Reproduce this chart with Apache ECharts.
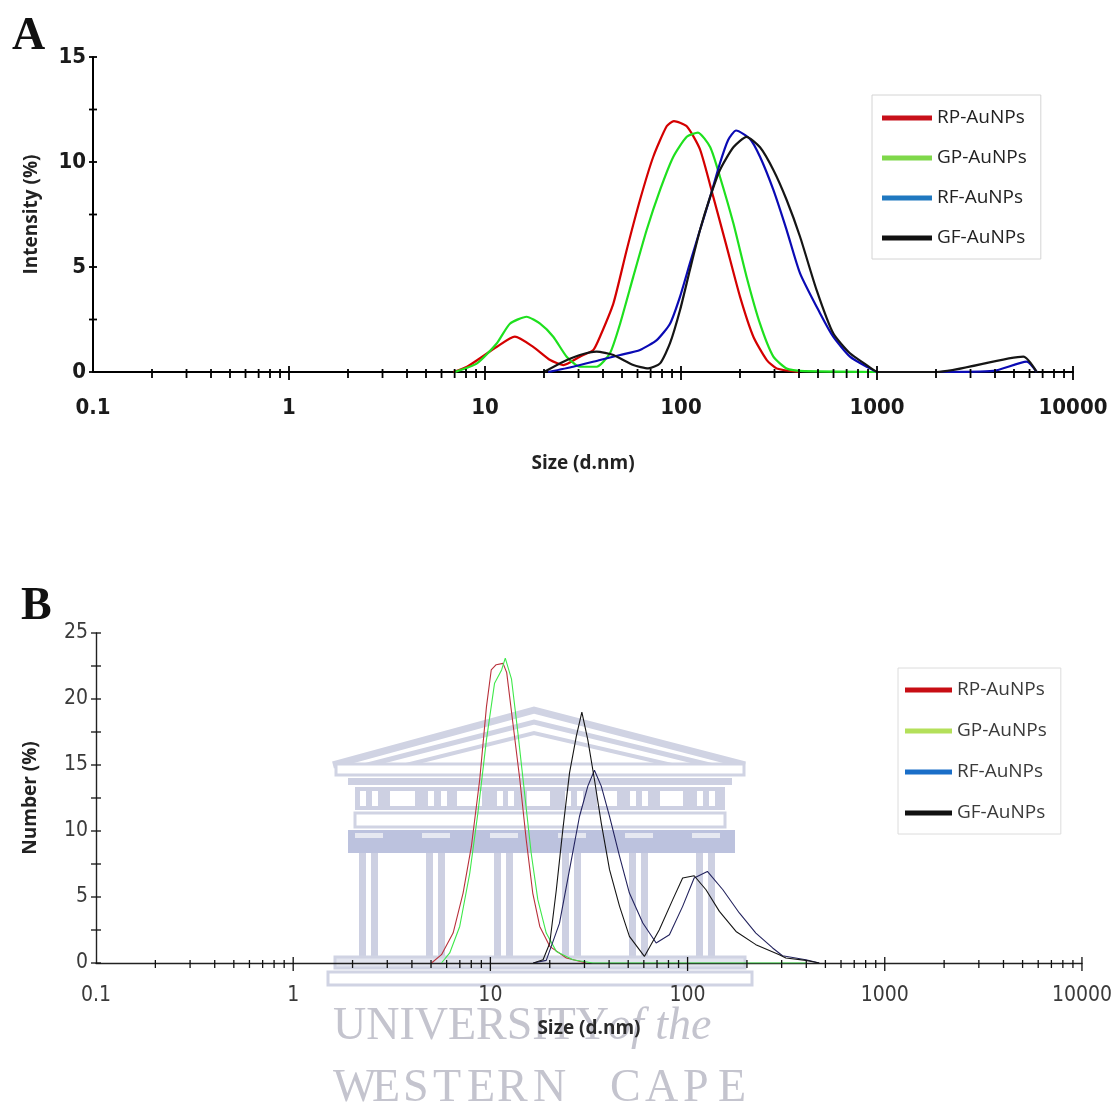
<!DOCTYPE html>
<html><head><meta charset="utf-8">
<script src="https://cdn.jsdelivr.net/npm/echarts@6/dist/echarts.min.js"></script>
<style>html,body{margin:0;padding:0;background:#fff}#c{width:1115px;height:1118px}</style>
</head><body><div id="c"></div>
<script>
// ---------------- DATA ----------------
const seriesNames = ['RP-AuNPs', 'GP-AuNPs', 'RF-AuNPs', 'GF-AuNPs'];
const xTickLabels = ['0.1', '1', '10', '100', '1000', '10000'];

// Panel A: Intensity (%) vs size (d.nm)
const rpSizeA = [6.9, 8.1, 11.5, 14.2, 17.6, 21.5, 25.1, 30.5, 35.7, 38.6, 45.2, 52.8, 61.8, 72.2, 84.5, 92, 107, 125, 146, 171, 200, 234, 274, 308, 405];
const rpIntA  = [0, 0.25, 1.2, 1.68, 1.2, 0.57, 0.33, 0.73, 1.05, 1.68, 3.27, 5.8, 8.2, 10.25, 11.7, 11.95, 11.7, 10.6, 8.35, 5.97, 3.59, 1.68, 0.57, 0.17, 0];
const gpSizeA = [7.0, 9.1, 11.5, 13.4, 16.3, 19.1, 22.3, 26.1, 30.5, 37.1, 43.4, 48.9, 57.1, 66.8, 78.2, 91.4, 107, 122, 141, 158, 185, 216, 253, 296, 346, 405, 1000];
const gpIntA  = [0, 0.41, 1.37, 2.3, 2.63, 2.3, 1.68, 0.73, 0.25, 0.25, 0.89, 2.3, 4.54, 6.76, 8.67, 10.25, 11.2, 11.4, 10.7, 9.3, 7.08, 4.54, 2.3, 0.73, 0.17, 0.05, 0];
const rfSizeA = [21.0, 28.2, 38.6, 48.9, 61.8, 75.2, 87.9, 98.9, 111, 125, 141, 158, 174, 191, 225, 253, 296, 346, 405, 512, 598, 728, 886, 1016, 2018, 3920, 5800, 6530];
const rfIntA  = [0, 0.25, 0.57, 0.81, 1.05, 1.52, 2.3, 3.59, 5.17, 6.76, 8.35, 9.94, 11.05, 11.5, 11.1, 10.25, 8.67, 6.76, 4.7, 2.8, 1.68, 0.73, 0.25, 0, 0, 0.05, 0.49, 0];
const gfSizeA = [20, 25.1, 30.5, 37.1, 45.2, 57.1, 68.1, 78.2, 87.9, 98.9, 111, 125, 141, 158, 185, 216, 253, 296, 346, 405, 492, 598, 728, 886, 1016, 2018, 5580, 6530];
const gfIntA  = [0, 0.49, 0.81, 0.97, 0.81, 0.33, 0.17, 0.41, 1.37, 2.95, 4.86, 6.76, 8.35, 9.62, 10.7, 11.2, 10.7, 9.62, 8.19, 6.44, 3.9, 1.84, 0.89, 0.33, 0, 0, 0.73, 0];

// Panel B: Number (%) vs size (d.nm)
const rpSizeB = [5.03, 5.65, 6.47, 7.27, 8.01, 8.83, 9.55, 10.1, 10.7, 11.6, 12.1, 13.0, 14.1, 15.2, 16.4, 17.8, 20.0, 24.3, 30.6];
const rpNumB  = [0, 0.63, 2.27, 5.3, 8.83, 13.9, 19.4, 22.2, 22.6, 22.7, 22.0, 18.2, 13.9, 9.34, 5.3, 2.77, 1.26, 0.38, 0];
const gpSizeB = [5.65, 6.22, 6.99, 7.86, 8.65, 9.55, 10.5, 11.4, 11.9, 12.8, 13.8, 14.9, 16.1, 17.4, 19.2, 21.6, 26.2, 33.1, 400];
const gpNumB  = [0, 0.76, 2.77, 6.8, 11.4, 16.9, 21.2, 22.2, 23.1, 21.5, 17.4, 12.9, 8.33, 4.8, 2.27, 0.88, 0.25, 0, 0];
const rfSizeB = [16.5, 19.2, 22.4, 25.2, 28.3, 31.2, 33.7, 36.5, 40.2, 45.2, 50.7, 59.3, 69.3, 80.9, 94.4, 108, 126, 151, 183, 222, 270, 303, 398, 465];
const rfNumB  = [0, 0.2, 3.0, 7.07, 11.1, 13.4, 14.6, 13.4, 11.1, 8.08, 5.3, 3.03, 1.52, 2.14, 4.29, 6.44, 6.94, 5.55, 3.79, 2.27, 1.14, 0.55, 0.25, 0];
const gfSizeB = [16.5, 18.5, 20.0, 21.6, 23.3, 25.2, 27.3, 29.1, 31.2, 33.7, 36.5, 40.2, 45.2, 50.7, 60.4, 71.9, 84.1, 94.4, 108, 124, 145, 176, 222, 292, 315, 398, 465];
const gfNumB  = [0, 0.25, 1.5, 5.55, 10.1, 14.4, 17.2, 19.0, 16.9, 13.9, 10.6, 7.07, 4.29, 2.02, 0.5, 2.52, 4.8, 6.44, 6.61, 5.55, 3.91, 2.39, 1.39, 0.63, 0.38, 0.2, 0];

// Axis tick positions
const majorTicks = [1, 10, 100, 1000, 10000];
const minorMultipliers = [2, 3, 4, 5, 6, 7, 8, 9];
const decadeStarts = [0.1, 1, 10, 100, 1000];
const yTicksA = [0, 2.5, 5, 7.5, 10, 12.5, 15];
const yTicksB = [0, 2.5, 5, 7.5, 10, 12.5, 15, 17.5, 20, 22.5, 25];

// ---------------- BUILD ----------------
const zip = (xs, ys) => xs.map((x, i) => [x, ys[i]]);
const colorsA = ['#d40000', '#1ee01e', '#0a0ab4', '#151515'];
const colorsB = ['#b8303a', '#3ee84a', '#23235e', '#151515'];
const legendColorsA = ['#c8101a', '#7fd84a', '#1f78c0', '#111111'];
const legendColorsB = ['#c80e14', '#b4e05a', '#1a6ec8', '#111111'];

const dataA = [zip(rpSizeA, rpIntA), zip(gpSizeA, gpIntA), zip(rfSizeA, rfIntA), zip(gfSizeA, gfIntA)];
const dataB = [zip(rpSizeB, rpNumB), zip(gpSizeB, gpNumB), zip(rfSizeB, rfNumB), zip(gfSizeB, gfNumB)];

function tickData(yTicks) {
  const d = [];
  decadeStarts.forEach(s => minorMultipliers.forEach(m => d.push([Number((s * m).toPrecision(4)), 0, 0])));
  majorTicks.forEach(v => d.push([v, 0, 1]));
  yTicks.forEach(v => d.push([0.1, v, 2]));
  return d;
}
function tickRender(cfg) {
  return function (params, api) {
    const k = api.value(2);
    const p = api.coord([api.value(0), api.value(1)]);
    let shape;
    if (k === 0) shape = { x1: p[0], y1: p[1] - cfg.minUp, x2: p[0], y2: p[1] + cfg.minDn };
    else if (k === 1) shape = { x1: p[0], y1: p[1] - cfg.majUp, x2: p[0], y2: p[1] + cfg.majDn };
    else shape = { x1: p[0] - cfg.yL, y1: p[1], x2: p[0] + cfg.yR, y2: p[1] };
    return { type: 'line', shape: shape, style: { stroke: cfg.color, lineWidth: cfg.width } };
  };
}

const narrow = "'Liberation Sans Narrow', 'Arial Narrow', 'DejaVu Sans Condensed', sans-serif";
const logFmt = v => String(Number(Number(v).toPrecision(6)));
const yFmt = v => (Math.abs(v % 5) < 1e-9 ? String(v) : '');

const series = [];
seriesNames.forEach((n, i) => {
  series.push({ name: n, type: 'line', xAxisIndex: 0, yAxisIndex: 0, data: dataA[i], showSymbol: false, symbol: 'none',
    smooth: 0.2, lineStyle: { color: colorsA[i], width: 2.2 }, itemStyle: { color: colorsA[i] }, z: 3 });
});
seriesNames.forEach((n, i) => {
  series.push({ name: n, type: 'line', xAxisIndex: 1, yAxisIndex: 1, data: dataB[i], showSymbol: false, symbol: 'none',
    lineStyle: { color: colorsB[i], width: 1.1 }, itemStyle: { color: colorsB[i] }, z: 3 });
});
series.push({ type: 'custom', xAxisIndex: 0, yAxisIndex: 0, data: tickData(yTicksA), encode: { x: 0, y: 1 }, silent: true, z: 4,
  renderItem: tickRender({ minUp: 3, minDn: 6, majUp: 6, majDn: 8, yL: 4, yR: 4, color: '#000', width: 1.8 }) });
series.push({ type: 'custom', xAxisIndex: 1, yAxisIndex: 1, data: tickData(yTicksB), encode: { x: 0, y: 1 }, silent: true, z: 4,
  renderItem: tickRender({ minUp: 3, minDn: 5, majUp: 6, majDn: 8, yL: 5, yR: 5, color: '#111', width: 1.3 }) });

// ---- watermark (decorative) ----
const wmLine = '#d0d3e3', wmFill = '#cdd0e2', wmDark = '#bcc2de';
const wm = [];
wm.push({ type: 'polyline', shape: { points: [[333, 765], [534, 710], [745, 765]] }, style: { stroke: wmLine, lineWidth: 7, fill: null } });
wm.push({ type: 'polyline', shape: { points: [[352, 769], [534, 722], [726, 769]] }, style: { stroke: wmLine, lineWidth: 5, fill: null } });
wm.push({ type: 'polyline', shape: { points: [[378, 772], [534, 733], [702, 772]] }, style: { stroke: wmLine, lineWidth: 4, fill: null } });
wm.push({ type: 'rect', shape: { x: 336, y: 764, width: 408, height: 11 }, style: { stroke: wmLine, lineWidth: 3, fill: '#fff' } });
wm.push({ type: 'rect', shape: { x: 348, y: 778, width: 384, height: 7 }, style: { fill: wmFill } });
wm.push({ type: 'rect', shape: { x: 355, y: 787, width: 370, height: 23 }, style: { fill: wmFill } });
[[360, 366], [372, 378], [428, 434], [441, 447], [497, 503], [508, 514], [565, 571], [577, 583], [630, 636], [642, 648], [697, 703], [709, 715]].forEach(b =>
  wm.push({ type: 'rect', shape: { x: b[0], y: 791, width: b[1] - b[0], height: 15 }, style: { fill: '#fff' } }));
[[390, 415], [457, 482], [527, 550], [597, 617], [660, 683]].forEach(b =>
  wm.push({ type: 'rect', shape: { x: b[0], y: 791, width: b[1] - b[0], height: 15 }, style: { fill: '#fff' } }));
wm.push({ type: 'rect', shape: { x: 355, y: 813, width: 370, height: 14 }, style: { stroke: wmLine, lineWidth: 3, fill: '#fff' } });
wm.push({ type: 'rect', shape: { x: 348, y: 830, width: 387, height: 23 }, style: { fill: wmDark } });
const colGroups = [369, 436, 504, 572, 639, 706];
colGroups.forEach(c => {
  wm.push({ type: 'rect', shape: { x: c - 14, y: 833, width: 28, height: 5 }, style: { fill: '#e6e8f1' } });
  wm.push({ type: 'rect', shape: { x: c - 10, y: 853, width: 7, height: 104 }, style: { fill: wmFill } });
  wm.push({ type: 'rect', shape: { x: c + 2, y: 853, width: 7, height: 104 }, style: { fill: wmFill } });
});
wm.push({ type: 'rect', shape: { x: 335, y: 957, width: 410, height: 11 }, style: { stroke: wmLine, lineWidth: 3, fill: '#e3e5ef' } });
wm.push({ type: 'rect', shape: { x: 328, y: 972, width: 424, height: 13 }, style: { stroke: wmLine, lineWidth: 3, fill: '#fff' } });
const wmText = '#c4c4ce';
wm.push({ type: 'text', style: { text: 'UNIVERSITY', x: 333, y: 1004, fill: wmText, font: '46px "Liberation Serif"', verticalAlign: 'top' } });
wm.push({ type: 'text', style: { text: 'of the', x: 608, y: 1004, fill: wmText, font: 'italic 46px "Liberation Serif"', verticalAlign: 'top' } });
const wcLetters = ['W', 'E', 'S', 'T', 'E', 'R', 'N', 'C', 'A', 'P', 'E'];
const wcX = [333, 372, 403, 433, 467, 497, 533, 610, 645, 683, 718];
wcLetters.forEach((l, i) => wm.push({ type: 'text', style: { text: l, x: wcX[i], y: 1066, fill: wmText, font: '46px "Liberation Serif"', verticalAlign: 'top' } }));
wm.forEach(e => { e.z = -5; e.silent = true; });

const option = {
  animation: false,
  backgroundColor: '#fff',
  grid: [
    { left: 93, top: 57, width: 980, height: 315 },
    { left: 96, top: 633, width: 987, height: 330 }
  ],
  xAxis: [
    { type: 'log', logBase: 10, gridIndex: 0, min: 0.1, max: 10000,
      axisLine: { lineStyle: { color: '#000', width: 2 } }, axisTick: { show: false }, splitLine: { show: false }, minorTick: { show: false },
      axisLabel: { formatter: logFmt, fontFamily: narrow, fontWeight: 'bold', fontSize: 22, color: '#1a1a1a', margin: 25 },
      name: 'Size (d.nm)', nameLocation: 'middle', nameGap: 82,
      nameTextStyle: { fontFamily: 'Open Sans', fontWeight: 'bold', fontSize: 19, color: '#222' } },
    { type: 'log', logBase: 10, gridIndex: 1, min: 0.1, max: 10000,
      axisLine: { lineStyle: { color: '#222', width: 1.4 } }, axisTick: { show: false }, splitLine: { show: false }, minorTick: { show: false },
      axisLabel: { formatter: logFmt, fontFamily: narrow, fontSize: 21, color: '#3a3a3a', margin: 22 },
      name: 'Size (d.nm)', nameLocation: 'middle', nameGap: 56,
      nameTextStyle: { fontFamily: 'Open Sans', fontWeight: 'bold', fontSize: 19, color: '#2a2a2a' } }
  ],
  yAxis: [
    { type: 'value', gridIndex: 0, min: 0, max: 15, interval: 2.5,
      axisLine: { show: true, lineStyle: { color: '#000', width: 2 } }, axisTick: { show: false }, splitLine: { show: false },
      axisLabel: { formatter: yFmt, fontFamily: narrow, fontWeight: 'bold', fontSize: 22, color: '#1a1a1a', margin: 7 },
      name: 'Intensity (%)', nameLocation: 'middle', nameGap: 52, nameRotate: 90,
      nameTextStyle: { fontFamily: 'Open Sans', fontWeight: 'bold', fontSize: 19, color: '#222' } },
    { type: 'value', gridIndex: 1, min: 0, max: 25, interval: 2.5,
      axisLine: { show: true, lineStyle: { color: '#222', width: 1.4 } }, axisTick: { show: false }, splitLine: { show: false },
      axisLabel: { formatter: yFmt, fontFamily: narrow, fontSize: 21, color: '#3a3a3a', margin: 8 },
      name: 'Number (%)', nameLocation: 'middle', nameGap: 56, nameRotate: 90,
      nameTextStyle: { fontFamily: 'Open Sans', fontWeight: 'bold', fontSize: 19, color: '#222' } }
  ],
  legend: [
    { orient: 'vertical', left: 872, top: 95, icon: 'rect', itemWidth: 50, itemHeight: 5, itemGap: 14,
      padding: [10, 14, 8, 10], borderColor: '#d4d4d4', borderWidth: 1, backgroundColor: '#fff',
      data: seriesNames.map((n, i) => ({ name: n, itemStyle: { color: legendColorsA[i] } })),
      textStyle: { fontFamily: 'Open Sans', fontSize: 19, color: '#222', lineHeight: 26 } },
    { orient: 'vertical', left: 898, top: 668, icon: 'rect', itemWidth: 47, itemHeight: 5, itemGap: 15,
      padding: [9, 14, 8, 7], borderColor: '#dcdcdc', borderWidth: 1, backgroundColor: '#fff',
      data: seriesNames.map((n, i) => ({ name: n, itemStyle: { color: legendColorsB[i] } })),
      textStyle: { fontFamily: 'Open Sans', fontSize: 19, color: '#3a3a3a', lineHeight: 26 } }
  ],
  graphic: [
    { type: 'text', left: 12, top: 14, style: { text: 'A', font: 'bold 46px "Liberation Serif"', fill: '#111' }, z: 10 },
    { type: 'text', left: 21, top: 584, style: { text: 'B', font: 'bold 46px "Liberation Serif"', fill: '#111' }, z: 10 }
  ].concat(wm),
  series: series
};
const chart = echarts.init(document.getElementById('c'), null, { renderer: 'canvas' });
chart.setOption(option);
</script>
</body></html>
